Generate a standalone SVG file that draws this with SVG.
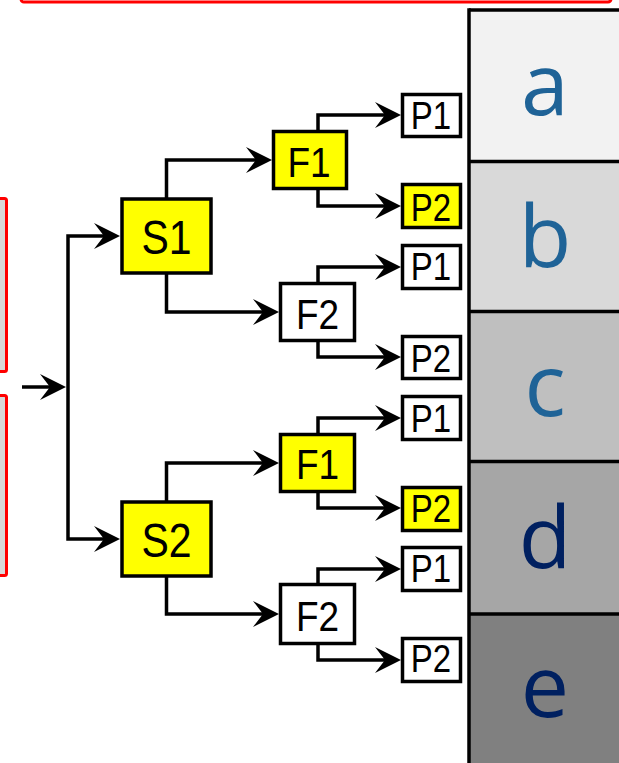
<svg xmlns="http://www.w3.org/2000/svg" width="619" height="763" viewBox="0 0 619 763">
<style>
.box{stroke:#000;stroke-width:3.5}
.y{fill:#ffff00}
.w{fill:#fff}
.lbl{font-family:"Liberation Sans",Arial,sans-serif;text-anchor:middle;fill:#000}
.s{font-size:41px}
.f{font-size:37px}
.p{font-size:33px}
.con{fill:none;stroke:#000;stroke-width:3.5;marker-end:url(#arr)}
.red{stroke:#ff0000;stroke-width:3}
.col{font-family:"Open Sans","Noto Sans",sans-serif;font-size:86px;text-anchor:middle}
.dv{stroke:#000;stroke-width:3.5}
</style>
<defs>
<marker id="arr" markerUnits="userSpaceOnUse" markerWidth="27" markerHeight="27" refX="17" refY="13" orient="auto" overflow="visible">
<path d="M26,13 L0,0 L10,13 L0,26 Z" fill="#000"/>
</marker>
</defs>
<g id="frames">
<rect x="21" y="-50" width="590" height="52" rx="3" fill="#fff" class="red"/>
<rect x="-20" y="198.5" width="26.5" height="173" rx="2" fill="#d9d9d9" class="red"/>
<rect x="-20" y="395.5" width="26.5" height="180" rx="2" fill="#d9d9d9" class="red"/>
</g>
<g id="column">
<rect x="469" y="10" width="170" height="151.5" fill="#f2f2f2"/>
<rect x="469" y="161.5" width="170" height="150" fill="#d9d9d9"/>
<rect x="469" y="311.5" width="170" height="150" fill="#bfbfbf"/>
<rect x="469" y="461.5" width="170" height="152.5" fill="#a6a6a6"/>
<rect x="469" y="614" width="170" height="160" fill="#808080"/>
<line class="dv" x1="469" y1="8.3" x2="469" y2="770"/>
<line class="dv" x1="469" y1="10" x2="640" y2="10"/>
<line class="dv" x1="469" y1="161.5" x2="640" y2="161.5"/>
<line class="dv" x1="469" y1="311.5" x2="640" y2="311.5"/>
<line class="dv" x1="469" y1="461.5" x2="640" y2="461.5"/>
<line class="dv" x1="469" y1="614" x2="640" y2="614"/>
<text class="col" x="545" y="115" fill="#1f6397">a</text>
<text class="col" x="545" y="267" fill="#1f6397">b</text>
<text class="col" x="545" y="416" fill="#1f6397">c</text>
<text class="col" x="545" y="568" fill="#002060">d</text>
<text class="col" x="545" y="717" fill="#002060">e</text>
</g>
<g id="connectors">
<path class="con" d="M22,387 H57"/>
<path class="con" d="M68,387 V236 H111"/>
<path class="con" d="M68,387 V539 H111"/>
<path class="con" d="M166.5,199 V160 H263"/>
<path class="con" d="M166.5,273 V312 H270"/>
<path class="con" d="M166.5,502 V463 H270"/>
<path class="con" d="M166.5,576 V614 H270"/>
<path class="con" d="M318,131.5 V115 H392"/>
<path class="con" d="M318,188.5 V206 H392"/>
<path class="con" d="M318,283.5 V267 H392"/>
<path class="con" d="M318,340.5 V357 H392"/>
<path class="con" d="M318,434.5 V418 H392"/>
<path class="con" d="M318,491.5 V508 H392"/>
<path class="con" d="M318,584.5 V569 H392"/>
<path class="con" d="M318,643.5 V660 H392"/>
</g>
<g id="S1"><rect class="box y" x="122" y="199" width="89" height="74"/><text class="lbl s" transform="translate(166.5,254) scale(1,1.17)">S1</text></g>
<g id="S2"><rect class="box y" x="122" y="502" width="89" height="74"/><text class="lbl s" transform="translate(166.5,557) scale(1,1.17)">S2</text></g>
<g id="F1a"><rect class="box y" x="273.5" y="131.5" width="73" height="57"/><text class="lbl f" transform="translate(309,177) scale(1,1.17)">F1</text></g>
<g id="F2a"><rect class="box w" x="280.5" y="283.5" width="74" height="57"/><text class="lbl f" transform="translate(317.5,329) scale(1,1.17)">F2</text></g>
<g id="F1b"><rect class="box y" x="280.5" y="434.5" width="74" height="57"/><text class="lbl f" transform="translate(317.5,479) scale(1,1.17)">F1</text></g>
<g id="F2b"><rect class="box w" x="280.5" y="584.5" width="74" height="59"/><text class="lbl f" transform="translate(317.5,631) scale(1,1.17)">F2</text></g>
<g id="P1a"><rect class="box w" x="402.5" y="94.5" width="58" height="42"/><text class="lbl p" transform="translate(431,129) scale(1,1.17)">P1</text></g>
<g id="P2a"><rect class="box y" x="402.5" y="184.5" width="58" height="43"/><text class="lbl p" transform="translate(431,221) scale(1,1.17)">P2</text></g>
<g id="P1b"><rect class="box w" x="402.5" y="245.5" width="58" height="43"/><text class="lbl p" transform="translate(431,280) scale(1,1.17)">P1</text></g>
<g id="P2b"><rect class="box w" x="402.5" y="336.5" width="58" height="42"/><text class="lbl p" transform="translate(431,372) scale(1,1.17)">P2</text></g>
<g id="P1c"><rect class="box w" x="402.5" y="396.5" width="58" height="43"/><text class="lbl p" transform="translate(431,432) scale(1,1.17)">P1</text></g>
<g id="P2c"><rect class="box y" x="402.5" y="487.5" width="58" height="43"/><text class="lbl p" transform="translate(431,522) scale(1,1.17)">P2</text></g>
<g id="P1d"><rect class="box w" x="402.5" y="547.5" width="58" height="43"/><text class="lbl p" transform="translate(431,582) scale(1,1.17)">P1</text></g>
<g id="P2d"><rect class="box w" x="402.5" y="638.5" width="58" height="43"/><text class="lbl p" transform="translate(431,672) scale(1,1.17)">P2</text></g>
</svg>
